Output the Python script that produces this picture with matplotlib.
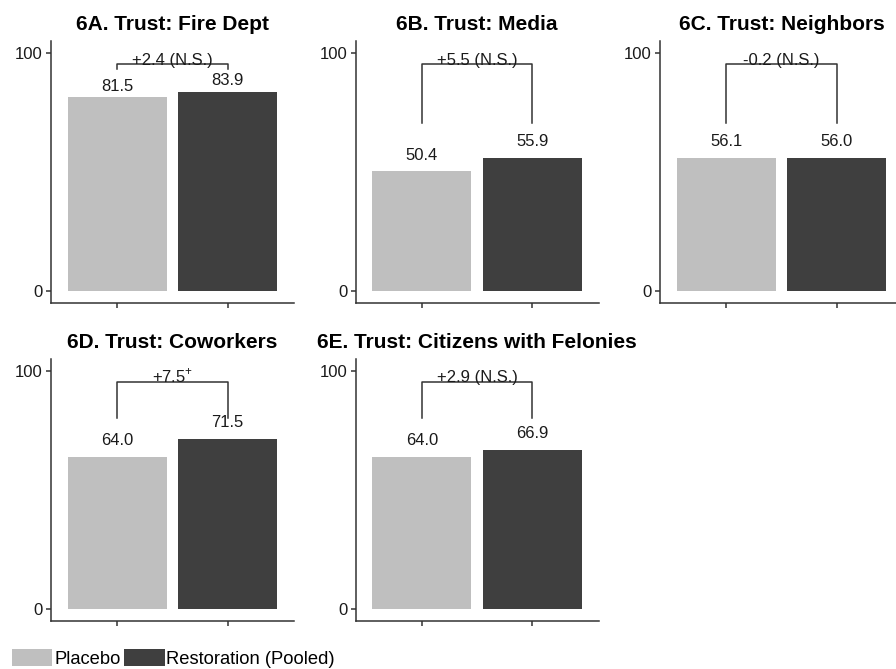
import matplotlib
matplotlib.use("Agg")
import matplotlib.pyplot as plt
from matplotlib.patches import Patch

plt.rcParams['font.family'] = ['Liberation Sans', 'DejaVu Sans']
plt.rcParams['mathtext.fontset'] = 'custom'
plt.rcParams['mathtext.rm'] = 'Liberation Sans'

# Panel data
titles = ['6A. Trust: Fire Dept', '6B. Trust: Media', '6C. Trust: Neighbors',
          '6D. Trust: Coworkers', '6E. Trust: Citizens with Felonies']
placebo = [81.5, 50.4, 56.1, 64.0, 64.0]
restoration = [83.9, 55.9, 56.0, 71.5, 66.9]
diff_labels = ['+2.4 (N.S.)', '+5.5 (N.S.)', '-0.2 (N.S.)', '+7.5$^{+}$', '+2.9 (N.S.)']
bracket_top = [95.5, 95.3, 95.3, 95.5, 95.5]
bracket_low = [93.5, 70.6, 70.6, 80.3, 80.3]
label_offset = [4.5, 6.8, 6.7, 6.8, 6.8]
groups = ['Placebo', 'Restoration (Pooled)']

light = '#bfbfbf'
dark = '#3f3f3f'
line_col = '#333333'

W, H = 896, 669
fig = plt.figure(figsize=(W / 100, H / 100), dpi=100)

# axes boxes in pixels: left, top, bottom
lefts = [51, 355.5, 660, 51, 355.5]
tops = [41.4, 41.4, 41.4, 359, 359]
bottoms = [302.9, 302.9, 302.9, 620.6, 620.6]
ax_w = 243

for i in range(5):
    ax = fig.add_axes([lefts[i] / W, (H - bottoms[i]) / H, ax_w / W,
                       (bottoms[i] - tops[i]) / H])
    ax.bar([1, 2], [placebo[i], restoration[i]], width=0.9, color=[light, dark])
    ax.set_xlim(0.4, 2.6)
    ax.set_ylim(-5, 105)
    ax.set_xticks([1, 2])
    ax.set_xticklabels(['', ''])
    ax.set_yticks([0, 100])
    ax.tick_params(axis='both', length=3.6, width=1.1, color=line_col,
                   labelsize=12, pad=2.2, labelcolor='#1a1a1a')
    for s in ['top', 'right']:
        ax.spines[s].set_visible(False)
    for s in ['left', 'bottom']:
        ax.spines[s].set_color(line_col)
        ax.spines[s].set_linewidth(1.1)

    # value labels
    for x, v in zip([1, 2], [placebo[i], restoration[i]]):
        ax.text(x, v + label_offset[i], f'{v:.1f}', ha='center', va='center',
                fontsize=12, color='#1a1a1a')

    # significance bracket
    ax.plot([1, 1, 2, 2], [bracket_low[i], bracket_top[i], bracket_top[i], bracket_low[i]],
            color=line_col, lw=1.1, clip_on=False)
    ax.text(1.5, bracket_top[i] - 0.3, diff_labels[i], ha='center', va='baseline',
            fontsize=12, color='#1a1a1a')

    ax.set_title(titles[i], fontsize=15, fontweight='bold', pad=8)

handles = [Patch(facecolor=light), Patch(facecolor=dark)]
fig.legend(handles, groups, loc='lower left', bbox_to_anchor=(12 / W, 1 / H),
           ncol=2, frameon=False, fontsize=13.2, handlelength=2.2,
           handleheight=1.05, handletextpad=0.1, columnspacing=0.2,
           borderpad=0, borderaxespad=0)

fig.savefig('out.png', dpi=100, facecolor='white')
